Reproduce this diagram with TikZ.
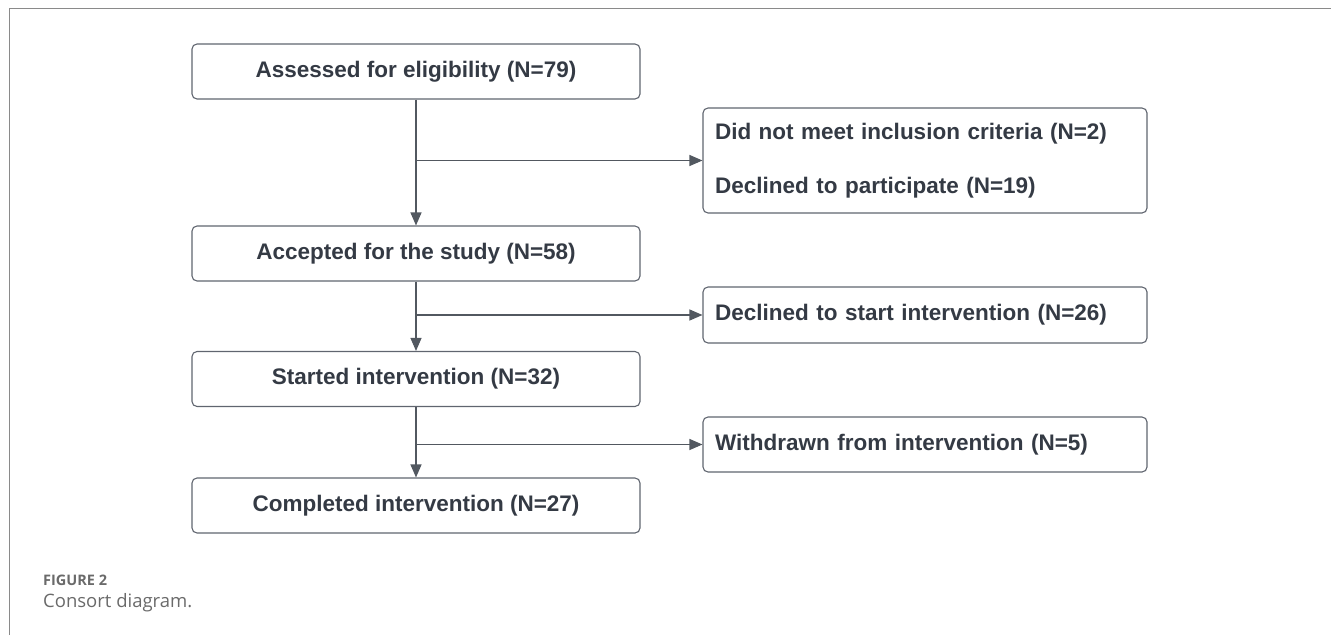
\documentclass[tikz,border=0pt]{standalone}
\usepackage{fontspec}
\setmainfont{Liberation Sans}
\newfontfamily\capfont{Open Sans}
\usetikzlibrary{arrows.meta}
\definecolor{inkdark}{HTML}{343A44}
\definecolor{boxline}{HTML}{60656F}
\definecolor{frameline}{HTML}{8A8A8A}
\definecolor{capgray}{HTML}{6A6A6A}

\begin{document}
\begin{tikzpicture}[x=1pt,y=-1pt,
  mainbox/.style={draw=boxline,line width=1.1pt,rounded corners=5pt,minimum width=448pt,minimum height=55pt,inner sep=0pt,text=inkdark,font=\bfseries\fontsize{22.5}{27}\selectfont},
  sidebox/.style={draw=boxline,line width=1.1pt,rounded corners=5pt,text width=420pt,inner xsep=12pt,inner ysep=0pt,minimum height=55pt,align=left,text=inkdark,font=\bfseries\fontsize{22.5}{27}\selectfont},
  flow/.style={draw=inkdark!85,line width=1.1pt,-{Triangle[length=13pt,width=11pt]}}]
\path[use as bounding box] (0,0) rectangle (1331,635);
\draw[frameline,line width=1pt] (9,635)--(9,8)--(1331,8);

\node[mainbox] (assessed) at (416,71.5) {Assessed for eligibility (N=79)};
\node[mainbox] (accepted) at (416,253.5) {Accepted for the study (N=58)};
\node[mainbox] (started) at (416,379) {Started intervention (N=32)};
\node[mainbox] (completed) at (416,505.5) {Completed intervention (N=27)};

\node[sidebox,minimum height=105pt] (excluded) at (925,160.5) {Did not meet inclusion criteria (N=2)\\[27pt]Declined to participate (N=19)};
\node[sidebox,minimum height=56pt] (declined) at (925,315) {Declined to start intervention (N=26)};
\node[sidebox] (withdrawn) at (925,444.5) {Withdrawn from intervention (N=5)};

\coordinate (split1) at (assessed.south |- excluded.west);
\coordinate (split2) at (accepted.south |- declined.west);
\coordinate (split3) at (started.south |- withdrawn.west);

\draw[flow] (assessed.south)--(accepted.north);
\draw[flow] (accepted.south)--(started.north);
\draw[flow] (started.south)--(completed.north);
\draw[flow] (split1)--(excluded.west);
\draw[flow] (split2)--(declined.west);
\draw[flow] (split3)--(withdrawn.west);

\node[anchor=base west,inner sep=0pt,text=capgray,font=\capfont\bfseries\fontsize{14.5}{17}\selectfont] (figlabel) at (43,585) {FIGURE 2};
\node[anchor=base west,inner sep=0pt,text=capgray,font=\capfont\fontsize{18.5}{22}\selectfont] (figcaption) at (43,607) {Consort diagram.};
\end{tikzpicture}
\end{document}
